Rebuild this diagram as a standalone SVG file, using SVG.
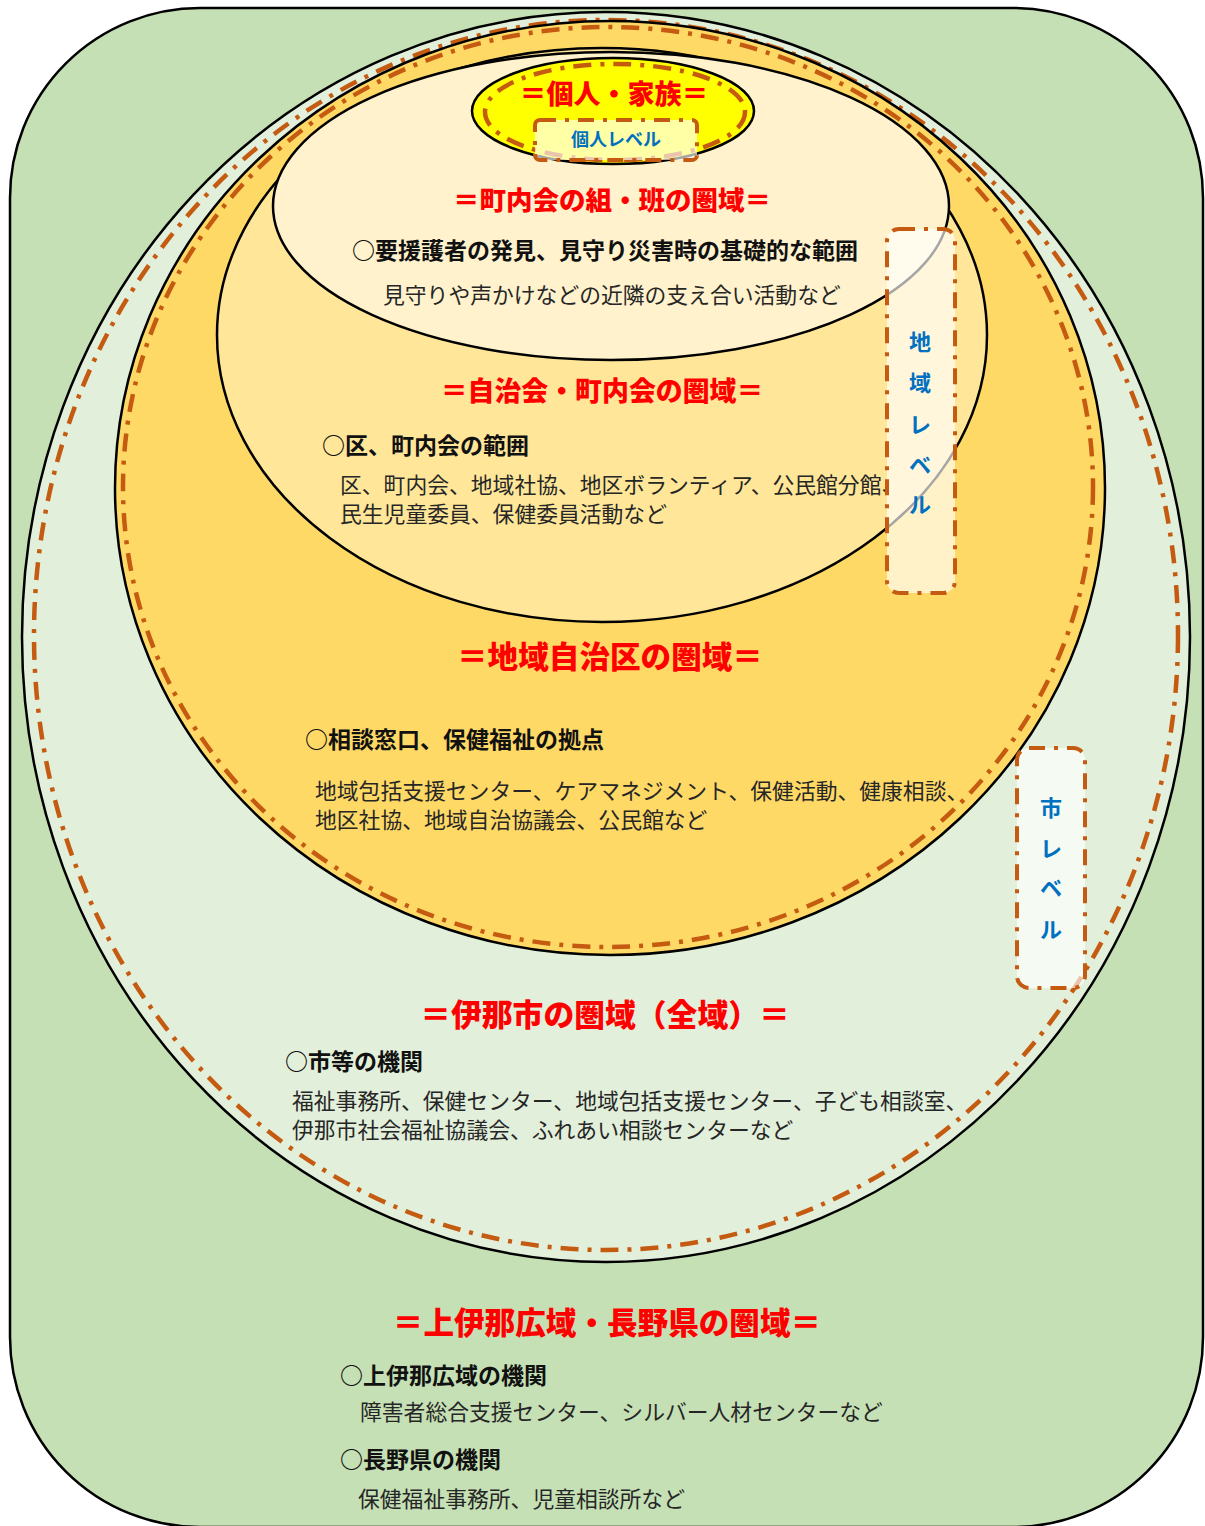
<svg xmlns="http://www.w3.org/2000/svg" width="1205" height="1526" viewBox="0 0 1205 1526">
<style>
.blk{stroke:#000;stroke-width:2.5}
.dd{fill:none;stroke:#c55a11;stroke-width:4.5;stroke-dasharray:18 9 4 9}
.ttl{font-family:"Noto Sans CJK JP","Noto Sans",sans-serif;font-weight:900;fill:#ff0000;text-anchor:middle}
.hd{font-family:"Noto Sans CJK JP","Noto Sans",sans-serif;font-weight:700;fill:#111;font-size:23px}
.tx{font-family:"Noto Sans CJK JP","Noto Sans",sans-serif;font-weight:400;fill:#262626;font-size:21.8px}
.lv{font-family:"Noto Sans CJK JP","Noto Sans",sans-serif;font-weight:700;fill:#0070c0;text-anchor:middle}
.box{fill:#ffffff;fill-opacity:0.65;stroke:#c55a11;stroke-width:4;stroke-dasharray:16 9 4 9}
</style>
<g id="prefecture">
<rect x="10" y="8" width="1193" height="1519" rx="190" ry="190" fill="#c5e0b4" class="blk"/>
</g>
<g id="city">
<ellipse cx="606" cy="637" rx="584" ry="625" fill="#e2efda" class="blk"/>
<ellipse cx="606" cy="635" rx="572" ry="615" class="dd"/>
</g>
<g id="district">
<ellipse cx="610" cy="488" rx="495" ry="467" fill="#ffd966" class="blk"/>
<ellipse cx="608" cy="487" rx="485" ry="460" class="dd"/>
</g>
<g id="jichikai">
<ellipse cx="602" cy="335" rx="385" ry="287" fill="#ffe699" class="blk"/>
</g>
<g id="kumihan">
<ellipse cx="611" cy="206" rx="338" ry="154" fill="#fff2cc" class="blk"/>
</g>
<g id="family">
<ellipse cx="613" cy="111" rx="141" ry="53" fill="#ffff00" class="blk"/>
<ellipse cx="615" cy="112" rx="130" ry="48" class="dd"/>
<rect x="535" y="120" width="162" height="40" rx="5" class="box" fill-opacity="0.6"/>
<text class="lv" x="616" y="146" font-size="18">個人レベル</text>
<text class="ttl" x="614" y="104" font-size="27">＝個人・家族＝</text>
</g>
<g id="texts">
<text class="ttl" x="612" y="210" font-size="26.5">＝町内会の組・班の圏域＝</text>
<text class="hd" x="352" y="259">○要援護者の発見、見守り災害時の基礎的な範囲</text>
<text class="tx" x="383" y="303" font-size="21.6">見守りや声かけなどの近隣の支え合い活動など</text>
<text class="ttl" x="602" y="401" font-size="26.9">＝自治会・町内会の圏域＝</text>
<text class="hd" x="322" y="454">○区、町内会の範囲</text>
<text class="tx" x="340" y="493">区、町内会、地域社協、地区ボランティア、公民館分館、</text>
<text class="tx" x="340" y="522">民生児童委員、保健委員活動など</text>
<text class="ttl" x="610" y="668" font-size="30.6">＝地域自治区の圏域＝</text>
<text class="hd" x="305" y="748">○相談窓口、保健福祉の拠点</text>
<text class="tx" x="315" y="799">地域包括支援センター、ケアマネジメント、保健活動、健康相談、</text>
<text class="tx" x="315" y="828">地区社協、地域自治協議会、公民館など</text>
<text class="ttl" x="605" y="1026" font-size="30.8">＝伊那市の圏域（全域）＝</text>
<text class="hd" x="285" y="1070">○市等の機関</text>
<text class="tx" x="292" y="1109">福祉事務所、保健センター、地域包括支援センター、子ども相談室、</text>
<text class="tx" x="292" y="1138">伊那市社会福祉協議会、ふれあい相談センターなど</text>
<text class="ttl" x="607" y="1334" font-size="30.6">＝上伊那広域・長野県の圏域＝</text>
<text class="hd" x="340" y="1384">○上伊那広域の機関</text>
<text class="tx" x="360" y="1420" font-size="21.7">障害者総合支援センター、シルバー人材センターなど</text>
<text class="hd" x="340" y="1468">○長野県の機関</text>
<text class="tx" x="358" y="1507" font-size="21.7">保健福祉事務所、児童相談所など</text>
</g>
<g id="chiiki-level">
<rect x="887" y="229" width="68" height="364" rx="12" class="box"/>
<text class="lv" font-size="22" x="920" y="350">地</text>
<text class="lv" font-size="22" x="920" y="391">域</text>
<text class="lv" font-size="22" x="920" y="433">レ</text>
<text class="lv" font-size="22" x="920" y="473">ベ</text>
<text class="lv" font-size="22" x="920" y="513">ル</text>
</g>
<g id="shi-level">
<rect x="1017" y="748" width="68" height="240" rx="12" class="box"/>
<text class="lv" font-size="22" x="1051" y="816">市</text>
<text class="lv" font-size="22" x="1051" y="857">レ</text>
<text class="lv" font-size="22" x="1051" y="896">ベ</text>
<text class="lv" font-size="22" x="1051" y="938">ル</text>
</g>
</svg>
